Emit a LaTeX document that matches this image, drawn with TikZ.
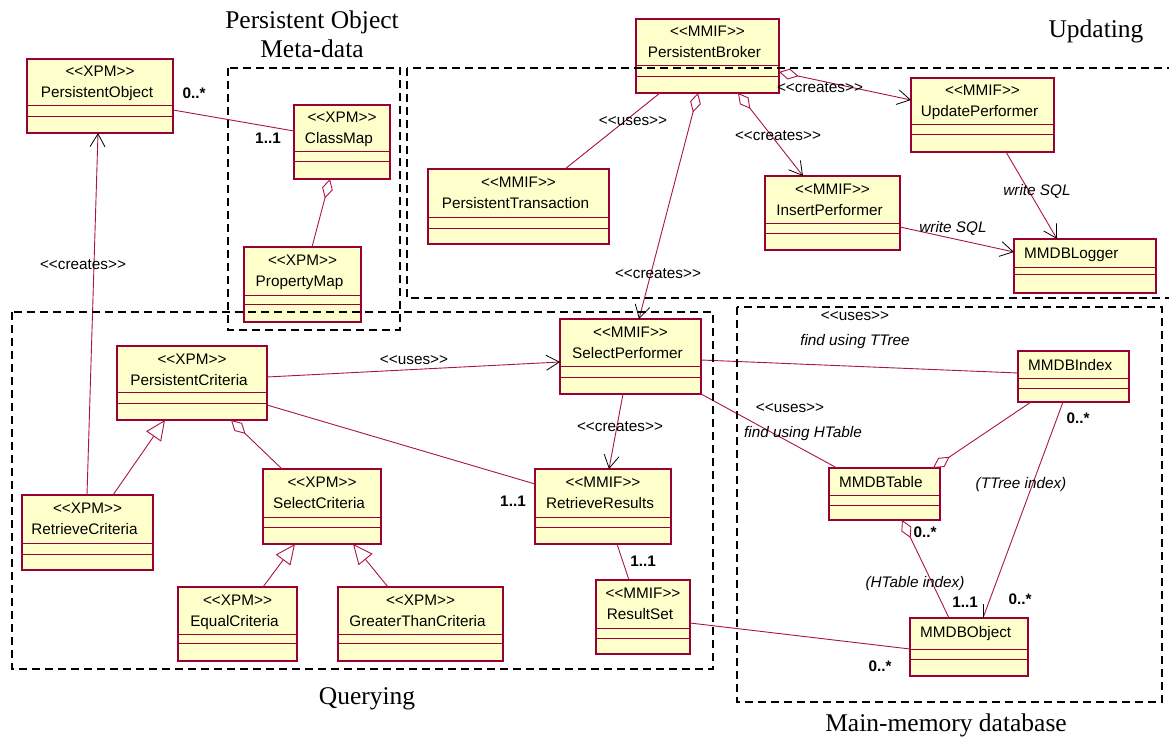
\documentclass[tikz,border=0pt]{standalone}
\usepackage{fontspec}
\setmainfont{Liberation Serif}
\newfontfamily\umlfont{Liberation Sans}
\usetikzlibrary{arrows.meta}
\definecolor{cborder}{RGB}{153,0,51}
\definecolor{cfill}{RGB}{255,255,204}
\definecolor{cline}{RGB}{170,20,70}
\newcommand\stL{<\kern0pt<}
\newcommand\stR{>\kern0pt>}
\tikzset{
  cls/.style={draw=cborder, fill=cfill, line width=1.3pt, inner sep=0pt, outer sep=0pt},
  cdiv/.style={draw=cborder, line width=1pt},
  ctext/.style={font=\umlfont\fontsize{15.3}{18}\selectfont, inner sep=0pt, text height=11pt, text depth=3pt},
  mult/.style={ctext, font=\umlfont\bfseries\fontsize{15.3}{18}\selectfont},
  ital/.style={ctext, font=\umlfont\itshape\fontsize{15.3}{18}\selectfont},
  ttl/.style={font=\fontsize{25.5}{30}\selectfont, inner sep=0pt, text height=17pt, text depth=5pt},
  conn/.style={draw=cline, line width=0.9pt},
  opena/.style={conn, -{Straight Barb[length=13pt,width=15pt,color=black,line width=0.8pt]}},
  aggr/.style={conn, {Diamond[open,length=20pt,width=11pt]}-},
  aggopen/.style={conn, {Diamond[open,length=20pt,width=11pt]}-{Straight Barb[length=13pt,width=15pt,color=black,line width=0.8pt]}},
  gen/.style={conn, -{Triangle[open,length=20pt,width=18pt]}},
  region/.style={draw=black, line width=2pt, dash pattern=on 8pt off 5pt},
}
% class box with stereotype
\newcommand\umlcls[9]{%
  \node[cls, minimum width=#4pt, minimum height=#5pt, anchor=north west] (#1) at (#2,#3) {};
  \draw[cdiv] ([yshift=-#6pt]#1.north west) -- ([yshift=-#6pt]#1.north east);
  \draw[cdiv] ([yshift=-#7pt]#1.north west) -- ([yshift=-#7pt]#1.north east);
  \node[ctext] (#1-st) at ([yshift=-14pt]#1.north) {\stL#8\stR};
  \node[ctext] (#1-nm) at ([xshift=-3pt,yshift=-35pt]#1.north) {#9};
}
% class box without stereotype
\newcommand\umlplain[8]{%
  \node[cls, minimum width=#4pt, minimum height=#5pt, anchor=north west] (#1) at (#2,#3) {};
  \draw[cdiv] ([yshift=-#6pt]#1.north west) -- ([yshift=-#6pt]#1.north east);
  \draw[cdiv] ([yshift=-#7pt]#1.north west) -- ([yshift=-#7pt]#1.north east);
  \node[ctext, anchor=west] (#1-nm) at ([xshift=10pt,yshift=-15pt]#1.north west) {#8};
}
\begin{document}
\begin{tikzpicture}[x=1pt,y=-1pt]
\useasboundingbox (0,0) rectangle (1169,738);
\fill[white] (0,0) rectangle (1169,738);

% ---------- classes ----------
\umlcls{po}{27}{59}{146}{74}{47}{58}{XPM}{PersistentObject}
\umlcls{cm}{294}{105}{96}{74}{47}{57}{XPM}{ClassMap}
\umlcls{pm}{244}{247}{117}{75}{48}{57}{XPM}{PropertyMap}
\umlcls{pb}{636}{19}{143}{74}{47}{58}{MMIF}{PersistentBroker}
\umlcls{pt}{428}{169}{181}{75}{48}{59}{MMIF}{PersistentTransaction}
\umlcls{ip}{765}{176}{135}{74}{47}{57}{MMIF}{InsertPerformer}
\umlcls{up}{911}{78}{143}{74}{47}{57}{MMIF}{UpdatePerformer}
\umlplain{ml}{1014}{239}{142}{54}{28}{35}{MMDBLogger}
\umlcls{pc}{117}{346}{150}{74}{46}{57}{XPM}{PersistentCriteria}
\umlcls{rc}{22}{495}{131}{75}{48}{59}{XPM}{RetrieveCriteria}
\umlcls{sc}{263}{469}{118}{75}{48}{58}{XPM}{SelectCriteria}
\umlcls{ec}{178}{587}{119}{74}{47}{56}{XPM}{EqualCriteria}
\umlcls{gc}{338}{587}{165}{74}{47}{56}{XPM}{GreaterThanCriteria}
\umlcls{sp}{560}{319}{141}{75}{47}{58}{MMIF}{SelectPerformer}
\umlcls{rr}{535}{469}{136}{75}{48}{58}{MMIF}{RetrieveResults}
\umlcls{rs}{596}{580}{94}{74}{48}{58}{MMIF}{ResultSet}
\umlplain{mi}{1018}{351}{111}{51}{27}{37}{MMDBIndex}
\umlplain{mt}{829}{468}{111}{52}{27}{37}{MMDBTable}
\umlplain{mo}{910}{618}{118}{58}{31}{41}{MMDBObject}

% ---------- connectors ----------
\draw[conn] ([yshift=-51pt]po.north east) -- ([yshift=-26pt]cm.north west);
\node[mult] (l1) at (194,95) {0..*};
\node[mult] (l2) at (268,140) {1..1};

\draw[aggr] ([xshift=36pt]cm.south west) -- ([xshift=68pt]pm.north west);

\draw[opena] ([xshift=65pt]rc.north west) -- ([xshift=71pt]po.south west);
\node[ctext] (l3) at (83,265) {\stL creates\stR};

\draw[conn] ([xshift=24pt]pb.south west) -- ([xshift=137pt]pt.north west);
\node[ctext] (l4) at (633,122) {\stL uses\stR};

\draw[aggopen] ([xshift=62pt]pb.south west) -- ([xshift=79pt]sp.north west);
\node[ctext] (l5) at (658,274) {\stL creates\stR};

\draw[aggopen] ([xshift=102pt]pb.south west) -- ([xshift=38pt]ip.north west);
\node[ctext] (l6) at (778,137) {\stL creates\stR};

\draw[aggopen] ([yshift=-53pt]pb.north east) -- ([yshift=-22pt]up.north west);
\node[ctext] (l7) at (820,89) {\stL creates\stR};

\draw[opena] ([xshift=95pt]up.south west) -- ([xshift=43pt]ml.north west);
\node[ital] (l8) at (1037,192) {write SQL};

\draw[opena] ([yshift=-51pt]ip.north east) -- ([yshift=-13pt]ml.north west);
\node[ital] (l9) at (953,228) {write SQL};

\draw[opena] ([yshift=-31pt]pc.north east) -- ([yshift=-43pt]sp.north west);
\node[ctext] (l10) at (414,360) {\stL uses\stR};

\draw[conn] ([yshift=-59pt]pc.north east) -- ([yshift=-15pt]rr.north west);
\node[mult] (l11) at (513,502) {1..1};

\draw[opena] ([xshift=63pt]sp.south west) -- ([xshift=74pt]rr.north west);
\node[ctext] (l12) at (620,427) {\stL creates\stR};

\draw[conn] ([xshift=82pt]rr.south west) -- ([xshift=33pt]rs.north west);
\node[mult] (l13) at (643,562) {1..1};

\draw[conn] ([yshift=-43pt]rs.north east) -- ([yshift=-31pt]mo.north west);
\node[mult] (l14) at (880,667) {0..*};

\draw[conn] ([yshift=-41pt]sp.north east) -- ([yshift=-22pt]mi.north west);
\node[ctext] (l15) at (855,316) {\stL uses\stR};
\node[ital] (l16) at (855,341) {find using TTree};

\draw[conn] (sp.south east) -- ([xshift=8pt]mt.north west);
\node[ctext] (l17) at (790,408) {\stL uses\stR};
\node[ital] (l18) at (803,433) {find using HTable};

\draw[aggr] ([xshift=104pt]mt.north west) -- ([xshift=13pt]mi.south west);

\draw[aggr] ([xshift=73pt]mt.south west) -- ([xshift=39pt]mo.north west);
\node[mult] (l19) at (925,533) {0..*};
\node[ital] (l20) at (915,583) {(HTable index)};
\node[mult] (l21) at (965,603) {1..1};

\draw[conn] ([xshift=45pt]mi.south west) -- ([xshift=73pt]mo.north west);
\draw[line width=0.8pt] ([xshift=73pt]mo.north west) -- ([xshift=73pt,yshift=14pt]mo.north west);
\node[mult] (l22) at (1078,419) {0..*};
\node[ital] (l23) at (1021,484) {(TTree index)};
\node[mult] (l24) at (1020,600) {0..*};

\draw[aggr] ([xshift=114pt]pc.south west) -- ([xshift=19pt]sc.north west);
\draw[gen] ([xshift=91pt]rc.north west) -- ([xshift=48pt]pc.south west);
\draw[gen] ([xshift=85pt]ec.north west) -- ([xshift=32pt]sc.south west);
\draw[gen] ([xshift=50pt]gc.north west) -- ([xshift=90pt]sc.south west);

% ---------- regions ----------
\draw[region] (228,68) rectangle (400,330);
\draw[region] (407,68) rectangle (1185,298);
\draw[region] (12,312) rectangle (713,669);
\draw[region] (737,307) rectangle (1162,702);

\node[ttl] (t1) at (312,23) {Persistent Object};
\node[ttl] (t2) at (312,52) {Meta-data};
\node[ttl] (t3) at (1096,32) {Updating};
\node[ttl] (t4) at (367,698) {Querying};
\node[ttl] (t5) at (946,725) {Main-memory database};
\end{tikzpicture}
\end{document}
